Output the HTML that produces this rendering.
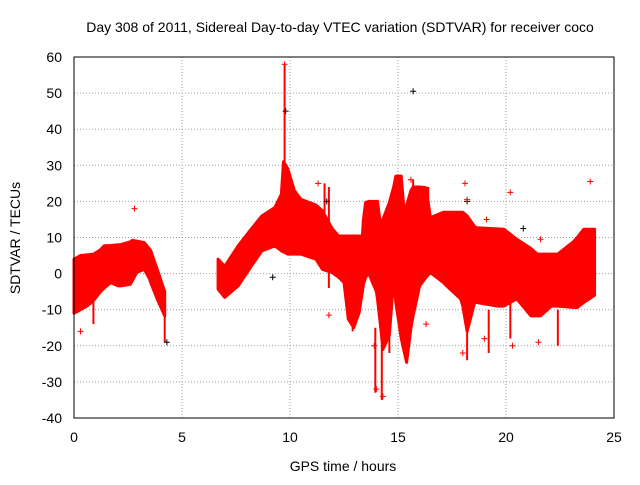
<!DOCTYPE html>
<html><head><meta charset="utf-8"><style>
body{margin:0;background:#fff}
svg text{font-family:"Liberation Sans",sans-serif;font-size:14px;fill:#000}
</style></head><body>
<svg id="chart" width="640" height="480">
<text x="340" y="32" text-anchor="middle">Day 308 of 2011, Sidereal Day-to-day VTEC variation (SDTVAR) for receiver coco</text>
<text x="343" y="471" text-anchor="middle">GPS time / hours</text>
<text x="0" y="0" text-anchor="middle" transform="translate(20,238) rotate(-90)">SDTVAR / TECUs</text>
<g id="grid"></g><g id="ticks"></g><g id="marks"></g>
<rect x="74" y="57" width="540" height="361" fill="none" stroke="#000"/>
</svg>
<script>
const xTicks=[0,5,10,15,20,25];
const yTicks=[-40,-30,-20,-10,0,10,20,30,40,50,60];
const seg1Hours=[0,0.3,0.6,0.9,1.2,1.4,1.7,2.05,2.15,2.6,2.7,2.9,3.25,3.5,3.55,3.85,4.2];
const seg1High=[4,5,5.2,5.4,6.5,7.7,7.8,8,8,8.8,9.2,9,8.6,6.8,6.4,1.2,-5];
const seg1Low=[-11,-10,-9,-7.5,-5.2,-4,-2.5,-3.4,-3.4,-3,-2,0.3,1.2,-1.5,-2.5,-7,-11.7];
const seg2Hours=[6.67,6.98,7.6,8.2,8.7,9.3,9.6,9.7,9.9,10.2,10.5,11.2,11.5,11.95,12.25,12.5,12.7,12.95,13.2,13.35,13.4,13.5,13.65,14.0,14.05,14.2,14.3,14.6,14.8,14.9,15.15,15.3,15.4,15.6,15.7,16.0,16.3,16.5,17.1,17.25,17.9,18.0,18.2,18.55,18.65,19.6,19.9,20.5,21.15,21.45,21.6,22.1,22.4,23.15,23.3,23.6,24.1];
const seg2High=[4,2,7.7,12.3,16,18.3,22,31,29,23,20.6,19,17.4,12.5,10.4,10.4,10.4,10.4,10.4,10.4,15,19.7,20,20,20,13,15,19.7,24,27,27,16,19,23,24,24,23.8,15.5,17,17,17,17,16,13,12.7,12.4,12.3,9.5,7,5.4,5.4,5.4,5.4,9,10,12.3,12.3];
const seg2Low=[-4.3,-6.6,-3.4,2,6.3,7.7,6.3,6,5.4,5.4,5.4,4,1.2,0.3,-1,-2.5,-12.6,-15,-10.8,-5,-3,-1,0,-5,-7,-15,-21,-17,-1.5,-8,-18,-22,-24.6,-15,-11.7,-3.4,-1,0.3,-2.5,-3.4,-7,-9,-16,-8,-8,-9,-9,-7,-11.7,-11.7,-11.7,-9,-9,-9.4,-9.4,-8,-6];
const spikeHours=[13.95,14.25,14.6,18.2,19.2,20.2,22.4,11.8,11.6,16.4,15.7,9.75,4.2,0.9,12.9];
const spikeLow=[-33,-35,-22,-24,-22,-18,-20,-4,13,15,18,25,-19,-14,-16];
const spikeHigh=[-15,-20,-15,-14,-10,-7,-10,24,25,24,26,58,-8,-8,-10];
const outHours=[2.8,9.75,14.3,14,18.1,20.2,23.9,0.3,11.3,11.8,18,20.3,21.6,16.3,15.6,19,13.9,15.4,18.2,19.1,21.5];
const outVals=[18,58,-34,-32,25,22.5,25.5,-16,25,-11.5,-22,-20,9.5,-14,26,-18,-20,-20,20.5,15,-19];
const blackHours=[15.7,9.8,4.3,9.2,18.2,11.7,20.8];
const blackVals=[50.5,45,-19,-1,20,20,12.5];
const X=h=>74+h*21.6, Y=v=>418-(v+40)*3.61;
const ns="http://www.w3.org/2000/svg";
function mk(t,a,p){const e=document.createElementNS(ns,t);for(const k in a)e.setAttribute(k,a[k]);p.appendChild(e);return e;}
const grid=document.getElementById('grid'),ticks=document.getElementById('ticks'),marks=document.getElementById('marks');
xTicks.forEach(t=>{
 if(t>0&&t<25){const g=mk('line',{x1:X(t),x2:X(t),y1:57,y2:418,stroke:'#a0a0a0','stroke-dasharray':'1,2'},grid);
 
 }
 const l=mk('text',{x:X(t),y:442,'text-anchor':'middle'},ticks);l.textContent=t;
 
 
});
yTicks.forEach(t=>{
 if(t>-40&&t<60){const g=mk('line',{x1:74,x2:614,y1:Y(t),y2:Y(t),stroke:'#a0a0a0','stroke-dasharray':'1,2'},grid);
 
 }
 const l=mk('text',{x:62,y:Y(t)+5,'text-anchor':'end'},ticks);l.textContent=t;
 
 
});
function band(hs,lo,hi,name){
 let d='M'+hs.map((h,i)=>X(h)+','+Y(hi[i])).join('L');
 for(let i=hs.length-1;i>=0;i--)d+='L'+X(hs[i])+','+Y(lo[i]);
 const p=mk('path',{d:d+'Z',fill:'#ff0000',stroke:'#ff0000','stroke-width':3,'stroke-linejoin':'round'},marks);
 
 
}
band(seg1Hours,seg1Low,seg1High,'data-band-1');
band(seg2Hours,seg2Low,seg2High,'data-band-2');
spikeHours.forEach((h,i)=>{
 const s=mk('line',{x1:X(h),x2:X(h),y1:Y(spikeLow[i]),y2:Y(spikeHigh[i]),stroke:'#ff0000','stroke-width':2},marks);
 
 
});
function plus(h,v,c,name){
 const x=X(h),y=Y(v);
 const p=mk('path',{d:`M${x-3},${y}h6M${x},${y-3}v6`,stroke:c,'stroke-width':1},marks);
 
 
}
blackHours.forEach((h,i)=>plus(h,blackVals[i],'#000','black-point'));
outHours.forEach((h,i)=>plus(h,outVals[i],'#ff0000','outlier-point'));
</script>
</body></html>
